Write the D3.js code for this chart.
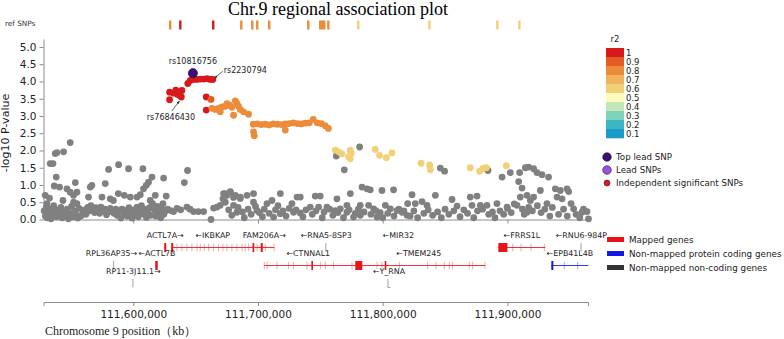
<!DOCTYPE html>
<html>
<head>
<meta charset="utf-8">
<script src="https://cdn.jsdelivr.net/npm/d3@7"></script>
<style>
  body { margin: 0; background: #fff; }
  svg { display: block; font-family: "DejaVu Sans", sans-serif; }
</style>
</head>
<body>
<div id="chart"></div>
<script>
// ---- data (positions in kb on chr9, p as -log10 P) ----
const xDomainKb = [111528.0, 111964.6];
const yTicks = [0, 0.5, 1, 1.5, 2, 2.5, 3, 3.5, 4, 4.5, 5];
const xTicksKb = [111600, 111700, 111800, 111900];

const r2Levels = [1, 0.9, 0.8, 0.7, 0.6, 0.5, 0.4, 0.3, 0.2, 0.1];
const r2Colors = ["#d7191c", "#e35c28", "#ea8c3a", "#f0b35f", "#f2d077",
                  "#fdfdc0", "#c2e8b7", "#7ed3b8", "#3cb6c4", "#1a9bc9"];

// ref SNPs track [pos, r2]
const refSnps = [
  [111629.6, 0.8], [111637.7, 1], [111664.1, 1], [111686.6, 0.8], [111695.4, 0.8],
  [111699.4, 0.8], [111709.0, 0.8], [111740.3, 0.8], [111749.9, 0.8], [111751.5, 0.8],
  [111753.1, 0.8], [111756.4, 0.8], [111780.4, 0.6], [111837.4, 0.6], [111891.9, 0.6],
  [111909.6, 0.6]
];

const topLead = [111647.8, 4.24];

// SNPs in LD with the lead SNP [pos, p, r2]
const ldSnps = [
  [111643.7, 3.94, 1], [111645.7, 4.03, 1], [111648.1, 4.06, 1], [111650.9, 4.06, 1],
  [111653.7, 4.07, 1], [111656.5, 4.07, 1], [111659.3, 4.08, 1], [111661.7, 4.06, 1],
  [111663.7, 4.06, 1],
  [111629.1, 3.69, 1], [111629.1, 3.47, 1], [111632.3, 3.66, 1], [111634.1, 3.75, 1],
  [111635.3, 3.63, 1], [111638.5, 3.55, 1], [111639.0, 3.74, 1], [111637.3, 3.59, 1],
  [111658.5, 3.55, 1], [111658.5, 3.17, 1], [111662.3, 3.48, 0.9],
  [111663.1, 3.22, 0.8], [111665.7, 3.19, 0.8], [111668.4, 3.22, 0.8], [111669.7, 3.12, 0.8],
  [111671.1, 3.26, 0.8], [111673.8, 3.28, 0.8], [111675.1, 3.36, 0.8], [111677.2, 3.31, 0.8],
  [111679.1, 3.25, 0.8], [111680.4, 3.02, 0.8], [111681.8, 3.44, 0.8], [111683.1, 3.36, 0.8],
  [111684.4, 3.28, 0.8], [111685.8, 3.19, 0.8], [111688.4, 3.12, 0.8], [111692.4, 3.05, 0.8],
  [111696.2, 2.76, 0.8], [111696.4, 2.54, 0.8], [111697.0, 2.43, 0.8], [111699.4, 2.77, 0.8],
  [111702.6, 2.75, 0.8], [111705.8, 2.76, 0.8], [111709.0, 2.74, 0.8], [111712.2, 2.77, 0.8],
  [111715.5, 2.76, 0.8], [111718.7, 2.75, 0.8], [111721.9, 2.77, 0.8], [111721.9, 2.59, 0.8],
  [111725.1, 2.78, 0.8], [111728.3, 2.80, 0.8], [111731.5, 2.78, 0.8], [111734.7, 2.77, 0.8],
  [111737.9, 2.79, 0.8], [111741.1, 2.80, 0.8], [111744.3, 2.90, 0.8], [111747.5, 2.80, 0.8],
  [111750.7, 2.78, 0.8], [111753.9, 2.72, 0.8], [111756.4, 2.64, 0.8],
  [111762.0, 2.01, 0.6], [111764.8, 1.96, 0.6], [111767.2, 1.90, 0.6], [111772.6, 1.82, 0.6],
  [111774.0, 2.01, 0.6], [111774.8, 1.92, 0.6], [111774.0, 1.76, 0.6], [111794.0, 2.03, 0.6],
  [111797.5, 1.86, 0.6], [111802.9, 1.79, 0.6], [111807.4, 1.93, 0.6], [111830.7, 1.63, 0.6],
  [111837.6, 1.58, 0.6], [111838.2, 1.44, 0.6], [111870.2, 1.50, 0.6], [111877.7, 1.40, 0.6],
  [111880.4, 1.48, 0.6], [111883.1, 1.50, 0.6], [111899.1, 1.56, 0.6]
];

// SNPs without LD information [pos, p]
const greySnps = [
  [111781.5, 2.10], [111769.2, 1.44], [111762.8, 1.84], [111846.2, 1.49], [111849.6, 1.40],
  [111884.4, 1.42],
  [111529.4, 0.70], [111533.4, 1.62], [111535.6, 1.62], [111537.4, 1.91], [111538.8, 1.94],
  [111544.1, 1.96], [111549.4, 2.23], [111538.2, 1.23], [111536.6, 0.97], [111540.9, 0.94],
  [111532.8, 0.62], [111530.8, 0.46], [111553.5, 1.07], [111546.8, 0.89], [111549.4, 0.79],
  [111552.1, 0.70], [111554.8, 0.79], [111543.6, 0.55], [111552.1, 0.50], [111554.8, 0.46],
  [111565.5, 0.94], [111564.1, 0.65], [111566.8, 0.99], [111574.9, 0.65], [111577.5, 1.04],
  [111580.2, 1.45], [111588.2, 1.59], [111596.2, 1.47], [111607.7, 1.47], [111581.5, 0.60],
  [111597.6, 0.65], [111603.0, 0.65], [111605.6, 0.72], [111608.2, 0.89], [111610.4, 0.99],
  [111612.2, 1.08], [111615.0, 1.23], [111624.3, 1.20], [111626.4, 0.68], [111623.8, 0.46],
  [111632.3, 0.23], [111640.9, 1.07], [111643.5, 1.42], [111643.0, 0.36], [111648.3, 0.23],
  [111652.1, 0.23], [111656.4, 0.23], [111662.3, 0.00], [111664.4, 0.33], [111667.1, 0.36],
  [111669.7, 0.41], [111671.9, 0.60], [111675.1, 0.70], [111673.7, 0.75], [111677.8, 0.81],
  [111680.4, 0.64], [111685.8, 0.61], [111627.5, 0.30], [111630.0, 0.26], [111635.0, 0.32],
  [111638.0, 0.28], [111645.5, 0.30],
  [111588.0, 0.75], [111592.8, 0.70], [111584.0, 0.55], [111613.6, 0.55], [111617.6, 0.70],
  [111528.5, 0.25], [111529.5, 0.10], [111530.2, 0.35], [111531.0, 0.05], [111532.0, 0.18],
  [111533.2, 0.30], [111534.0, 0.02], [111535.0, 0.12], [111536.2, 0.40], [111537.0, 0.22],
  [111538.5, 0.08], [111539.5, 0.28], [111540.8, 0.15], [111542.0, 0.35], [111543.0, 0.05],
  [111544.5, 0.20], [111545.5, 0.12], [111547.0, 0.30], [111548.0, 0.02], [111549.0, 0.18],
  [111550.5, 0.38], [111551.5, 0.08], [111553.0, 0.25], [111554.0, 0.14], [111555.5, 0.04],
  [111556.5, 0.32], [111558.0, 0.10], [111559.5, 0.22], [111561.0, 0.28], [111562.0, 0.15],
  [111563.5, 0.35], [111565.0, 0.25], [111566.0, 0.40], [111567.5, 0.30], [111569.0, 0.20],
  [111570.0, 0.34], [111571.5, 0.28], [111573.0, 0.18], [111574.0, 0.36], [111575.5, 0.25],
  [111577.0, 0.30], [111578.5, 0.14], [111580.0, 0.22], [111581.5, 0.32], [111583.0, 0.26],
  [111584.5, 0.18], [111586.0, 0.30], [111587.0, 0.12], [111588.5, 0.24], [111590.0, 0.04],
  [111591.0, 0.30], [111592.5, 0.16], [111594.0, 0.26], [111595.0, 0.10], [111596.5, 0.34],
  [111598.0, 0.20], [111599.0, 0.04], [111600.5, 0.28], [111601.5, 0.14], [111603.0, 0.36],
  [111604.0, 0.08], [111605.5, 0.24], [111606.5, 0.40], [111608.0, 0.16], [111609.0, 0.30],
  [111610.5, 0.06], [111611.5, 0.22], [111613.0, 0.34], [111614.0, 0.12], [111615.5, 0.46],
  [111617.0, 0.28], [111618.0, 0.10], [111619.5, 0.38], [111620.5, 0.20], [111622.0, 0.05],
  [111623.0, 0.30], [111624.5, 0.15], [111625.5, 0.24],
  [111672.4, 0.75], [111677.8, 0.79], [111681.8, 0.70], [111685.8, 0.65], [111691.2, 0.70],
  [111696.4, 0.75], [111673.8, 0.50], [111680.4, 0.41], [111683.1, 0.21], [111696.4, 0.50],
  [111699.2, 0.26], [111707.2, 0.46], [111711.2, 0.55], [111712.5, 0.07], [111717.9, 0.75],
  [111717.9, 0.17], [111727.2, 0.46], [111731.3, 0.65], [111733.9, 0.65], [111728.5, 0.21],
  [111733.9, 0.19], [111741.9, 0.36], [111745.9, 0.68], [111749.9, 0.68], [111748.6, 0.36],
  [111755.3, 0.36], [111763.3, 0.60], [111762.0, 0.26], [111766.0, 0.31], [111771.3, 0.41],
  [111774.0, 0.75], [111771.3, 0.21], [111782.0, 0.41], [111783.4, 0.94], [111787.4, 0.89],
  [111790.0, 0.86], [111788.7, 0.41], [111792.7, 0.31], [111795.4, 0.07], [111799.4, 0.84],
  [111802.1, 0.41], [111808.7, 0.86], [111806.1, 0.31], [111811.4, 0.26], [111815.5, 0.21],
  [111819.5, 0.12], [111776.6, 0.07], [111782.0, 0.12],
  [111676.5, 0.28], [111679.0, 0.12], [111684.0, 0.35], [111687.5, 0.22], [111689.0, 0.05],
  [111692.0, 0.30], [111694.5, 0.15], [111698.0, 0.38], [111701.0, 0.20], [111703.5, 0.08],
  [111705.0, 0.30], [111709.0, 0.18], [111714.0, 0.28], [111716.0, 0.40], [111720.0, 0.25],
  [111722.5, 0.10], [111725.0, 0.32], [111730.5, 0.28], [111736.0, 0.08], [111738.5, 0.28],
  [111743.5, 0.15], [111746.5, 0.25], [111751.5, 0.05], [111753.0, 0.22], [111757.5, 0.30],
  [111760.0, 0.12], [111764.0, 0.20], [111768.5, 0.05], [111773.0, 0.28], [111778.0, 0.18],
  [111780.5, 0.30], [111785.0, 0.22], [111790.5, 0.15], [111794.5, 0.26], [111798.0, 0.20],
  [111800.0, 0.05], [111804.0, 0.18], [111809.0, 0.10], [111813.0, 0.30], [111817.0, 0.25],
  [111823.5, 0.72], [111820.0, 0.46], [111826.1, 0.46], [111831.5, 0.52], [111835.5, 0.41],
  [111842.2, 0.70], [111855.6, 0.58], [111859.6, 0.39], [111870.2, 0.65], [111875.6, 0.68],
  [111871.6, 0.41], [111878.3, 0.41], [111883.6, 0.41], [111891.6, 0.46], [111895.7, 1.23],
  [111902.3, 1.36], [111909.0, 1.10], [111911.7, 0.91], [111909.8, 1.36], [111914.4, 1.50],
  [111917.0, 1.52], [111921.0, 1.47], [111923.7, 1.36], [111927.7, 1.30], [111933.0, 1.23],
  [111926.4, 0.84], [111938.4, 0.89], [111942.4, 0.84], [111947.8, 0.89], [111949.1, 0.81],
  [111939.8, 0.65], [111943.8, 0.60], [111951.0, 0.46], [111953.1, 0.31], [111910.3, 0.65],
  [111915.7, 0.70], [111918.4, 0.55], [111921.0, 0.65], [111907.7, 0.41], [111899.7, 0.36],
  [111931.7, 0.46], [111959.8, 0.21], [111963.8, 0.23], [111965.0, 0.02], [111915.7, 0.21],
  [111822.0, 0.10], [111825.0, 0.25], [111828.0, 0.05], [111833.0, 0.18], [111836.5, 0.28],
  [111840.0, 0.12], [111844.0, 0.22], [111847.0, 0.05], [111850.0, 0.30], [111853.0, 0.15],
  [111857.0, 0.25], [111862.0, 0.08], [111865.0, 0.28], [111868.0, 0.18], [111873.0, 0.05],
  [111876.0, 0.25], [111880.0, 0.30], [111885.0, 0.15], [111888.0, 0.22], [111890.0, 0.05],
  [111894.0, 0.25], [111897.0, 0.15], [111900.0, 0.32], [111903.0, 0.20], [111905.5, 0.45],
  [111912.0, 0.30], [111913.5, 0.15], [111917.0, 0.35], [111920.0, 0.25], [111924.0, 0.40],
  [111927.0, 0.20], [111930.0, 0.30], [111934.0, 0.10], [111936.0, 0.35], [111941.0, 0.15],
  [111945.0, 0.30], [111948.0, 0.10], [111955.0, 0.15], [111958.0, 0.05], [111961.0, 0.30]
];

// annotated SNPs: [name, pos, p, label x offset, label y offset, arrow?]
const snpLabels = [
  ["rs10816756", 111647.8, 4.24, 0, -12, false],
  ["rs2230794", 111663.7, 4.06, 11, -9, true],
  ["rs76846430", 111639.0, 3.55, -11, 20, true]
];

// genes: row, strand, kind (mapped / coding / noncoding), thick blocks, thin exons
const genes = [
  {name: "ACTL7A", start: 111624.8, end: 111626.4, row: 0, strand: "+", kind: "mapped",
   blocks: [[111624.8, 111626.4]], exons: []},
  {name: "IKBKAP", start: 111630.4, end: 111697.0, row: 0, strand: "-", kind: "mapped",
   blocks: [[111630.4, 111632.0], [111695.6, 111697.0]],
   exons: [111635.0, 111639.0, 111643.0, 111647.0, 111651.1, 111653.7, 111656.9, 111660.4,
           111664.4, 111668.4, 111671.9, 111675.1, 111679.1, 111683.1, 111687.1, 111689.8,
           111692.5, 111699.2]},
  {name: "FAM206A", start: 111697.0, end: 111713.0, row: 0, strand: "+", kind: "mapped",
   blocks: [[111702.2, 111703.8]], exons: [111705.8, 111713.0]},
  {name: "RNA5-8SP3", start: 111754.4, end: 111755.0, row: 0, strand: "-", kind: "noncoding",
   blocks: [], exons: []},
  {name: "MIR32", start: 111812.2, end: 111812.8, row: 0, strand: "-", kind: "hidden",
   blocks: [], exons: []},
  {name: "FRRS1L", start: 111892.7, end: 111930.4, row: 0, strand: "-", kind: "mapped",
   blocks: [[111892.7, 111900.0]], exons: [111904.2, 111910.9, 111918.9, 111929.6]},
  {name: "RNU6-984P", start: 111959.0, end: 111959.6, row: 0, strand: "-", kind: "noncoding",
   blocks: [], exons: []},
  {name: "RPL36AP35", start: 111584.2, end: 111584.8, row: 1, strand: "+", kind: "noncoding",
   blocks: [], exons: [], labelDx: -2.5},
  {name: "ACTL7B", start: 111617.6, end: 111619.6, row: 1, strand: "-", kind: "mapped",
   blocks: [[111617.6, 111619.6]], exons: [], labelDx: 0.5},
  {name: "CTNNAL1", start: 111705.0, end: 111775.6, row: 1, strand: "-", kind: "mapped",
   blocks: [[111742.8, 111743.8]],
   exons: [111705.0, 111707.2, 111715.2, 111724.5, 111728.5, 111739.3, 111750.0, 111754.0,
           111760.6, 111775.4]},
  {name: "TMEM245", start: 111775.6, end: 111882.3, row: 1, strand: "-", kind: "mapped",
   blocks: [[111778.0, 111783.6], [111801.6, 111802.6]],
   exons: [111795.4, 111799.4, 111813.3, 111836.0, 111842.7, 111849.4, 111853.4, 111856.0,
           111869.4, 111872.1, 111882.0]},
  {name: "EPB41L4B", start: 111935.2, end: 111964.9, row: 1, strand: "-", kind: "coding",
   blocks: [[111935.2, 111936.8]], exons: [111945.6, 111956.3]},
  {name: "RP11-3J11.1", start: 111599.7, end: 111600.3, row: 2, strand: "+", kind: "noncoding",
   blocks: [], exons: []},
  {name: "Y_RNA", start: 111804.2, end: 111806.0, row: 2, strand: "-", kind: "noncoding",
   blocks: [], exons: []}
];

const geneLegend = [
  ["Mapped genes", "#e8141b"],
  ["Non-mapped protein coding genes", "#1515e8"],
  ["Non-mapped non-coding genes", "#333333"]
];
const snpLegend = [
  ["Top lead SNP", "#3c0f78", 4.3],
  ["Lead SNPs", "#9b50e0", 4.3],
  ["Independent significant SNPs", "#e0191c", 3]
];

// ---- drawing ----
const width = 784, height = 339;
const svg = d3.select("#chart").append("svg")
  .attr("width", width).attr("height", height);

const x = d3.scaleLinear().domain(xDomainKb).range([43.5, 588]);
const y = d3.scaleLinear().domain([0, 5.23]).range([219.5, 39]);
const r2Color = r2 => r2Colors[r2Levels.indexOf(Math.ceil(r2 * 10 - 1e-9) / 10)];
const axisGrey = "#8c8c8c";

// title
svg.append("text")
  .attr("x", 338).attr("y", 15)
  .attr("text-anchor", "middle")
  .style("font-family", "'Liberation Serif', 'Times New Roman', serif")
  .style("font-size", "18px")
  .text("Chr.9 regional association plot");

// ref SNPs track
svg.append("text")
  .attr("x", 5).attr("y", 26)
  .style("font-size", "7.3px").attr("fill", "#333")
  .text("ref SNPs");
svg.selectAll(".refsnp").data(refSnps).enter()
  .append("rect")
  .attr("class", "refsnp")
  .attr("x", d => x(d[0]) - 1.2)
  .attr("y", 20.5)
  .attr("width", 2.4)
  .attr("height", 9)
  .attr("fill", d => r2Color(d[1]));

// y axis
const yAxis = svg.append("g")
  .attr("transform", "translate(43.5,0)")
  .call(d3.axisLeft(y).tickValues(yTicks).tickFormat(d3.format(".1f")).tickSize(4).tickSizeOuter(0));
yAxis.selectAll("path, line").attr("stroke", axisGrey);
yAxis.selectAll("text").style("font-size", "10.5px").attr("fill", "#222")
  .style("font-family", "'DejaVu Sans', sans-serif");

svg.append("text")
  .attr("transform", "translate(9,133) rotate(-90)")
  .attr("text-anchor", "middle")
  .style("font-size", "11px").attr("fill", "#222")
  .text("-log10 P-value");

// scatter x axis (no labels)
const xAxisTop = svg.append("g")
  .attr("transform", "translate(0,219.5)")
  .call(d3.axisBottom(x).tickValues(xTicksKb).tickFormat("").tickSize(4).tickSizeOuter(0));
xAxisTop.selectAll("path, line").attr("stroke", axisGrey);

// points
svg.selectAll(".grey").data(greySnps).enter()
  .append("circle").attr("class", "grey")
  .attr("cx", d => x(d[0])).attr("cy", d => y(d[1]))
  .attr("r", 3.4).attr("fill", "#808080");

svg.selectAll(".ld").data(ldSnps).enter()
  .append("circle").attr("class", "ld")
  .attr("cx", d => x(d[0])).attr("cy", d => y(d[1]))
  .attr("r", 3.4).attr("fill", d => r2Color(d[2]));

svg.append("circle")
  .attr("cx", x(topLead[0])).attr("cy", y(topLead[1]))
  .attr("r", 4.6).attr("fill", "#3c0f78")
  .attr("stroke", "#1a0535").attr("stroke-width", 0.6);

// SNP labels
snpLabels.forEach(([name, pos, p, dx, dy, arrow]) => {
  const px = x(pos), py = y(p);
  const tx = px + dx, ty = py + dy;
  svg.append("text")
    .attr("x", tx).attr("y", ty)
    .attr("text-anchor", dx > 0 ? "start" : "middle")
    .attr("dy", "0.35em")
    .style("font-size", "8px").attr("fill", "#222")
    .text(name);
  if (arrow) {
    const sx = dx > 0 ? tx - 1 : tx + 1;
    const sy = dx > 0 ? ty + 1 : ty - 6;
    const ex = dx > 0 ? px + 2 : px - 2.5;
    const ey = dx > 0 ? py - 1.5 : py + 4;
    svg.append("line")
      .attr("x1", sx).attr("y1", sy).attr("x2", ex).attr("y2", ey)
      .attr("stroke", "#222").attr("stroke-width", 0.7);
    const ang = Math.atan2(ey - sy, ex - sx);
    const h = 3;
    svg.append("path")
      .attr("d", `M${ex},${ey}L${ex - h * Math.cos(ang - 0.45)},${ey - h * Math.sin(ang - 0.45)}` +
                 `L${ex - h * Math.cos(ang + 0.45)},${ey - h * Math.sin(ang + 0.45)}Z`)
      .attr("fill", "#222");
  }
});

// r2 colour bar
const barX = 606, barY = 48, blockH = 9;
svg.append("text")
  .attr("x", 615).attr("y", 42)
  .attr("text-anchor", "middle")
  .style("font-size", "8.5px").attr("fill", "#222")
  .text("r2");
svg.selectAll(".r2block").data(r2Levels).enter()
  .append("rect").attr("class", "r2block")
  .attr("x", barX).attr("y", (d, i) => barY + i * blockH)
  .attr("width", 18).attr("height", blockH + 0.3)
  .attr("fill", (d, i) => r2Colors[i]);
svg.selectAll(".r2label").data(r2Levels).enter()
  .append("text").attr("class", "r2label")
  .attr("x", barX + 20).attr("y", (d, i) => barY + i * blockH + blockH / 2 + 0.5)
  .attr("dy", "0.35em")
  .style("font-size", "8.5px").attr("fill", "#222")
  .text(d => d);

// SNP type legend
snpLegend.forEach(([label, col, r], i) => {
  const ly = 157 + i * 13;
  svg.append("circle")
    .attr("cx", 607).attr("cy", ly).attr("r", r)
    .attr("fill", col).attr("stroke", "#222").attr("stroke-width", 0.6);
  svg.append("text")
    .attr("x", 616).attr("y", ly).attr("dy", "0.35em")
    .style("font-size", "8.7px").attr("fill", "#222")
    .text(label);
});

// gene track
const rowY = [247.5, 265.5, 283.5];
const labelOffset = 9.5;
const geneColor = {mapped: "#e8141b", coding: "#1515e8", noncoding: "#a0a0a0"};
const gTrack = svg.append("g");
genes.forEach(g => {
  const cy = rowY[g.row];
  const col = geneColor[g.kind];
  if (g.kind !== "hidden") {
    if (g.kind === "noncoding") {
      gTrack.append("line")
        .attr("x1", x(g.start)).attr("x2", x(g.start))
        .attr("y1", cy - 4.5).attr("y2", cy + 4)
        .attr("stroke", col).attr("stroke-width", 1);
      if (g.name === "Y_RNA") {
        gTrack.append("line")
          .attr("x1", x(g.start)).attr("x2", x(g.end))
          .attr("y1", cy + 4).attr("y2", cy + 4)
          .attr("stroke", col).attr("stroke-width", 1);
      }
    } else {
      gTrack.append("line")
        .attr("x1", x(g.start)).attr("x2", x(g.end))
        .attr("y1", cy).attr("y2", cy)
        .attr("stroke", col).attr("stroke-width", 1.1).attr("opacity", 0.85);
      g.exons.forEach(e => {
        gTrack.append("line")
          .attr("x1", x(e)).attr("x2", x(e))
          .attr("y1", cy - 3.8).attr("y2", cy + 3.8)
          .attr("stroke", col).attr("stroke-width", 0.8).attr("opacity", 0.45);
      });
      g.blocks.forEach(b => {
        gTrack.append("rect")
          .attr("x", x(b[0])).attr("y", cy - 4.5)
          .attr("width", Math.max(1.6, x(b[1]) - x(b[0])))
          .attr("height", 9)
          .attr("fill", col);
      });
    }
  }
  const label = g.strand === "+" ? g.name + "\u2192" : "\u2190" + g.name;
  gTrack.append("text")
    .attr("x", x((g.start + g.end) / 2) + (g.labelDx || 0))
    .attr("y", cy - labelOffset)
    .attr("text-anchor", "middle")
    .style("font-size", "7.9px").attr("fill", "#222")
    .text(label);
});

// gene legend
geneLegend.forEach(([label, col], i) => {
  const ly = 239.5 + i * 14;
  svg.append("rect")
    .attr("x", 607).attr("y", ly - 2.5)
    .attr("width", 17).attr("height", 5)
    .attr("fill", col);
  svg.append("text")
    .attr("x", 629).attr("y", ly).attr("dy", "0.35em")
    .style("font-size", "8.8px").attr("fill", "#222")
    .text(label);
});

// bottom position axis
const xAxis = svg.append("g")
  .attr("transform", "translate(0,302)")
  .call(d3.axisBottom(x).tickValues(xTicksKb)
    .tickFormat(d => d3.format(",")(Math.round(d * 1000)))
    .tickSize(4).tickSizeOuter(4));
xAxis.selectAll("path, line").attr("stroke", axisGrey);
xAxis.selectAll("text").style("font-size", "10.5px").attr("fill", "#222")
  .style("font-family", "'DejaVu Sans', sans-serif").attr("dy", "0.9em");

svg.append("text")
  .attr("x", 45).attr("y", 335)
  .style("font-family", "'Liberation Serif', 'Times New Roman', serif")
  .style("font-size", "12px").attr("fill", "#222")
  .text("Chromosome 9 position\uFF08kb\uFF09");
</script>
</body>
</html>
